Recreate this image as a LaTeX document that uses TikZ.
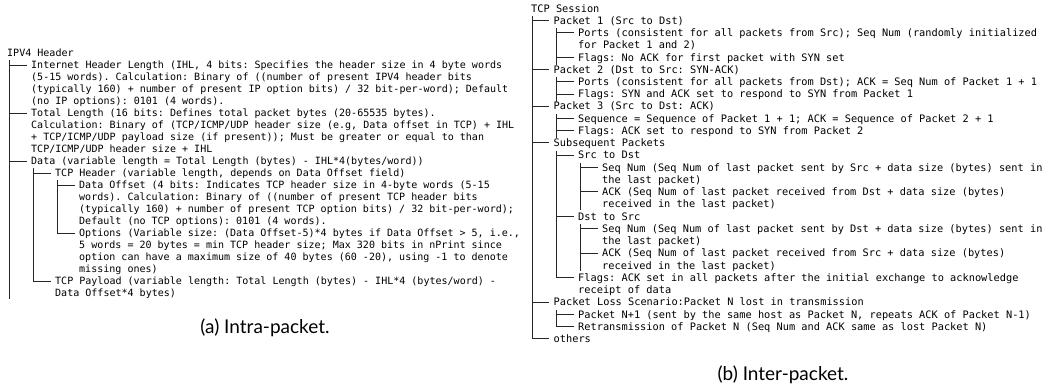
\documentclass[tikz,border=0pt]{standalone}
\usepackage{fontspec}
\setmonofont{DejaVu Sans Mono}
\newfontfamily\capfont{Lato}
\begin{document}
\begin{tikzpicture}[x=1bp,y=1bp,
  lt/.style={anchor=north west,inner sep=0,align=left,font=\fontsize{10.03bp}{12bp}\selectfont\ttfamily},
  rt/.style={anchor=north west,inner sep=0,align=left,font=\fontsize{10.3bp}{12.24bp}\selectfont\ttfamily},
  tree/.style={line width=0.9bp,black!85},
  br/.style={xshift=-4.5bp,yshift=-5bp},
  captext/.style={font=\fontsize{19bp}{22bp}\selectfont\capfont}]
\useasboundingbox (0,0) rectangle (1053,-389);
% (a) intra-packet
\node[lt] (ipv) at (7,-48) {\strut IPV4 Header};
\node[lt] (ihl) at (31,-60) {\strut Internet Header Length (IHL, 4 bits: Specifies the header size in 4 byte words\\(5-15 words). Calculation: Binary of ((number of present IPV4 header bits\\(typically 160) + number of present IP option bits) / 32 bit-per-word); Default\\(no IP options): 0101 (4 words).};
\node[lt] (tot) at (31,-108) {\strut Total Length (16 bits: Defines total packet bytes (20-65535 bytes).\\Calculation: Binary of (TCP/ICMP/UDP header size (e.g, Data offset in TCP) + IHL\\+ TCP/ICMP/UDP payload size (if present)); Must be greater or equal to than\\TCP/ICMP/UDP header size + IHL};
\node[lt] (dat) at (31,-156) {\strut Data (variable length = Total Length (bytes) - IHL*4(bytes/word))};
\node[lt] (tch) at (55,-168) {\strut TCP Header (variable length, depends on Data Offset field)};
\node[lt] (dof) at (79,-180) {\strut Data Offset (4 bits: Indicates TCP header size in 4-byte words (5-15\\words). Calculation: Binary of ((number of present TCP header bits\\(typically 160) + number of present TCP option bits) / 32 bit-per-word);\\Default (no TCP options): 0101 (4 words).};
\node[lt] (opt) at (79,-228) {\strut Options (Variable size: (Data Offset-5)*4 bytes if Data Offset > 5, i.e.,\\5 words = 20 bytes = min TCP header size; Max 320 bits in nPrint since\\option can have a maximum size of 40 bytes (60 -20), using -1 to denote\\missing ones)};
\node[lt] (pay) at (55,-276) {\strut TCP Payload (variable length: Total Length (bytes) - IHL*4 (bytes/word) -\\Data Offset*4 bytes)};
\draw[tree] (ipv.south west) ++(2.5,0) coordinate (ipv-v) |- ([br]ihl.north west) (ipv-v) |- ([br]tot.north west) (ipv-v) |- ([br]dat.north west) (ipv-v) -- (ipv-v |- pay.south);
\draw[tree] (dat.south west) ++(2.5,0) coordinate (dat-v) |- ([br]tch.north west) (dat-v) |- ([br]pay.north west);
\draw[tree] (tch.south west) ++(2.5,0) coordinate (tch-v) |- ([br]dof.north west) (tch-v) |- ([br]opt.north west);
\node[captext] (capa) at (265,-328) {(a) Intra-packet.};
% (b) inter-packet
\node[rt] (ses) at (531,-3.3) {\strut TCP Session};
\node[rt] (p1) at (553.5,-15.54) {\strut Packet 1 (Src to Dst)};
\node[rt] (p1p) at (578,-27.78) {\strut Ports (consistent for all packets from Src); Seq Num (randomly initialized\\for Packet 1 and 2)};
\node[rt] (p1f) at (578,-52.26) {\strut Flags: No ACK for first packet with SYN set};
\node[rt] (p2) at (553.5,-64.5) {\strut Packet 2 (Dst to Src: SYN-ACK)};
\node[rt] (p2p) at (578,-76.74) {\strut Ports (consistent for all packets from Dst); ACK = Seq Num of Packet 1 + 1};
\node[rt] (p2f) at (578,-88.98) {\strut Flags: SYN and ACK set to respond to SYN from Packet 1};
\node[rt] (p3) at (553.5,-101.22) {\strut Packet 3 (Src to Dst: ACK)};
\node[rt] (p3s) at (578,-113.46) {\strut Sequence = Sequence of Packet 1 + 1; ACK = Sequence of Packet 2 + 1};
\node[rt] (p3f) at (578,-125.7) {\strut Flags: ACK set to respond to SYN from Packet 2};
\node[rt] (sub) at (553.5,-137.94) {\strut Subsequent Packets};
\node[rt] (s2d) at (578,-150.18) {\strut Src to Dst};
\node[rt] (sseq) at (602,-162.42) {\strut Seq Num (Seq Num of last packet sent by Src + data size (bytes) sent in\\the last packet)};
\node[rt] (sack) at (602,-186.9) {\strut ACK (Seq Num of last packet received from Dst + data size (bytes)\\received in the last packet)};
\node[rt] (d2s) at (578,-211.38) {\strut Dst to Src};
\node[rt] (dseq) at (602,-223.62) {\strut Seq Num (Seq Num of last packet sent by Dst + data size (bytes) sent in\\the last packet)};
\node[rt] (dack) at (602,-248.1) {\strut ACK (Seq Num of last packet received from Src + data size (bytes)\\received in the last packet)};
\node[rt] (sfl) at (578,-272.58) {\strut Flags: ACK set in all packets after the initial exchange to acknowledge\\receipt of data};
\node[rt] (los) at (553.5,-297.06) {\strut Packet Loss Scenario:Packet N lost in transmission};
\node[rt] (lnx) at (578,-309.3) {\strut Packet N+1 (sent by the same host as Packet N, repeats ACK of Packet N-1)};
\node[rt] (lre) at (578,-321.54) {\strut Retransmission of Packet N (Seq Num and ACK same as lost Packet N)};
\node[rt] (oth) at (553.5,-333.78) {\strut others};
\draw[tree] (ses.south west) ++(1,0) coordinate (ses-v) |- ([br]p1.north west) (ses-v) |- ([br]p2.north west) (ses-v) |- ([br]p3.north west) (ses-v) |- ([br]sub.north west) (ses-v) |- ([br]los.north west) (ses-v) |- ([br]oth.north west);
\draw[tree] (p1.south west) ++(2.5,0) coordinate (p1-v) |- ([br]p1p.north west) (p1-v) |- ([br]p1f.north west) (p1-v) -- (p1-v |- p1f.south);
\draw[tree] (p2.south west) ++(2.5,0) coordinate (p2-v) |- ([br]p2p.north west) (p2-v) |- ([br]p2f.north west) (p2-v) -- (p2-v |- p2f.south);
\draw[tree] (p3.south west) ++(2.5,0) coordinate (p3-v) |- ([br]p3s.north west) (p3-v) |- ([br]p3f.north west) (p3-v) -- (p3-v |- p3f.south);
\draw[tree] (sub.south west) ++(2.5,0) coordinate (sub-v) |- ([br]s2d.north west) (sub-v) |- ([br]d2s.north west) (sub-v) |- ([br]sfl.north west);
\draw[tree] (s2d.south west) ++(2.5,0) coordinate (s2d-v) |- ([br]sseq.north west) (s2d-v) |- ([br]sack.north west) (s2d-v) -- (s2d-v |- sack.south);
\draw[tree] (d2s.south west) ++(2.5,0) coordinate (d2s-v) |- ([br]dseq.north west) (d2s-v) |- ([br]dack.north west) (d2s-v) -- (d2s-v |- dack.south);
\draw[tree] (los.south west) ++(2.5,0) coordinate (los-v) |- ([br]lnx.north west) (los-v) |- ([br]lre.north west);
\node[captext] (capb) at (783,-375) {(b) Inter-packet.};
\end{tikzpicture}
\end{document}
